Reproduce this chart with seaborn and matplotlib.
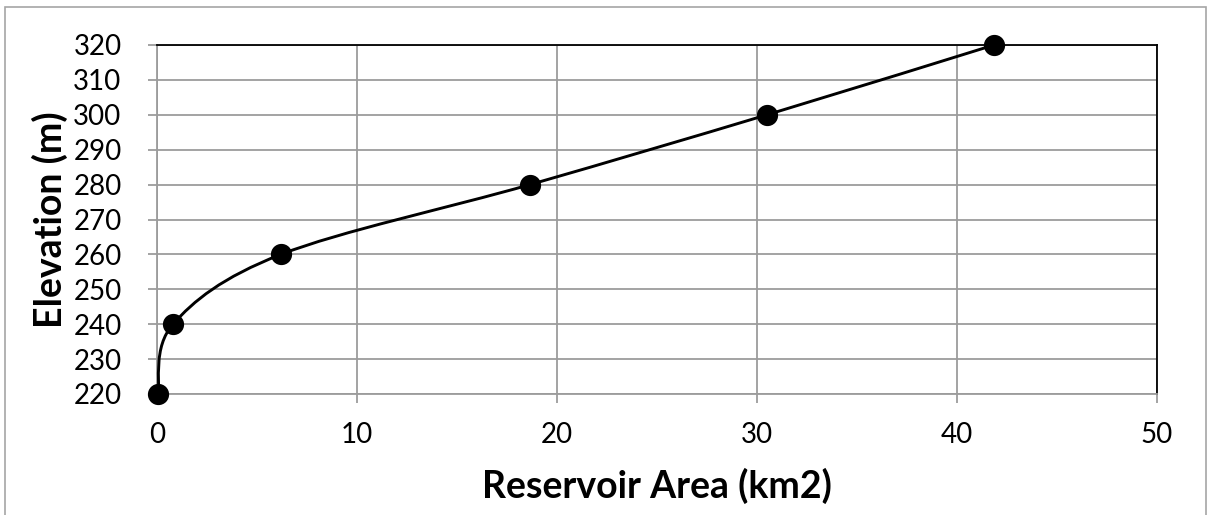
import numpy as np
import pandas as pd
import matplotlib
matplotlib.use("Agg")
import matplotlib.pyplot as plt
from matplotlib.path import Path
from matplotlib.patches import PathPatch, Rectangle
import seaborn as sns

# reservoir area vs elevation
area_km2 = [0.05, 0.8, 6.2, 18.65, 30.5, 41.85]
elevation_m = [220, 240, 260, 280, 300, 320]
x_ticks = [0, 10, 20, 30, 40, 50]
y_ticks = [220, 230, 240, 250, 260, 270, 280, 290, 300, 310, 320]

sns.set_style("white")
plt.rcParams['font.family'] = ['Lato', 'DejaVu Sans']
plt.rcParams['text.color'] = 'black'
plt.rcParams['axes.labelcolor'] = 'black'
plt.rcParams['xtick.labelcolor'] = 'black'
plt.rcParams['ytick.labelcolor'] = 'black'

df = pd.DataFrame({"Area": area_km2, "Elevation": elevation_m})

fig = plt.figure(figsize=(12.08, 5.15), dpi=100)
ax = fig.add_axes([157 / 1208, 1 - 394 / 515, 1000 / 1208, 349 / 515])

# outer chart border (excel style)
fig.patches.append(Rectangle((5 / 1208, -0.1), 1201 / 1208, 1.1 - 7 / 515,
                             transform=fig.transFigure, fill=False,
                             edgecolor="#a6a6a6", linewidth=1.2))

# excel-like smoothed line: cubic bezier segments through the points
pts = df[["Area", "Elevation"]].to_numpy(dtype=float)
ext = np.vstack([pts[0], pts, pts[-1]])
verts = [tuple(pts[0])]
codes = [Path.MOVETO]
for i in range(1, len(ext) - 2):
    p0, p1, p2, p3 = ext[i - 1], ext[i], ext[i + 1], ext[i + 2]
    c1 = p1 + (p2 - p0) / 6
    c2 = p2 - (p3 - p1) / 6
    verts += [tuple(c1), tuple(c2), tuple(p2)]
    codes += [Path.CURVE4] * 3
ax.add_patch(PathPatch(Path(verts, codes), fill=False, edgecolor="black",
                       linewidth=2.1, zorder=3, clip_on=False))

sns.scatterplot(data=df, x="Area", y="Elevation", ax=ax, color="black",
                s=200, edgecolor="black", zorder=4, clip_on=False)

ax.set_xlim(0, 50)
ax.set_ylim(220, 320)
ax.set_xticks(x_ticks)
ax.set_yticks(y_ticks)
ax.grid(True, color="#9c9c9c", linewidth=1.3)
ax.set_axisbelow(True)

for side in ["top", "right"]:
    ax.spines[side].set_color("black")
    ax.spines[side].set_linewidth(1.3)
for side in ["left", "bottom"]:
    ax.spines[side].set_color("#9c9c9c")
    ax.spines[side].set_linewidth(1.3)

ax.tick_params(axis="both", which="both", length=6.5, width=1.3, color="#9c9c9c",
               labelsize=20, direction="out")
ax.tick_params(axis="x", bottom=True, pad=14)
ax.tick_params(axis="y", left=True, pad=19)

ax.set_xlabel("Reservoir Area (km2)", fontsize=27, fontweight="bold", labelpad=14)
ax.set_ylabel("Elevation (m)", fontsize=27, fontweight="bold", labelpad=4)

fig.savefig("out.png", dpi=100)
